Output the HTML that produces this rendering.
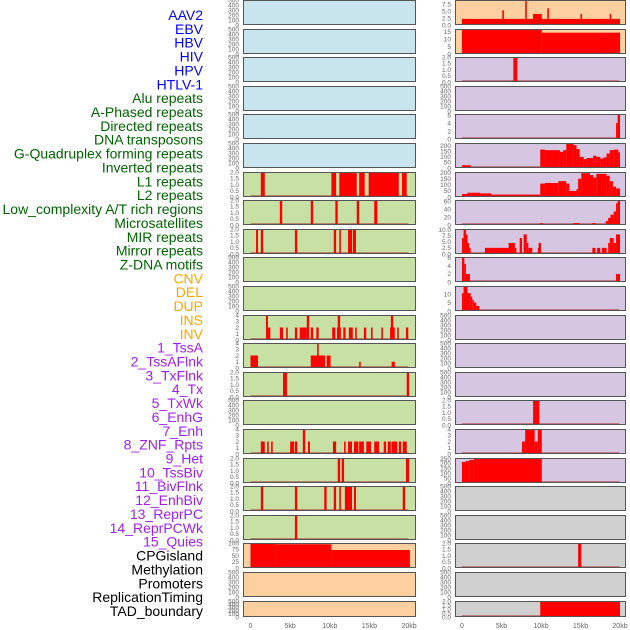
<!DOCTYPE html>
<html><head><meta charset="utf-8">
<style>
html,body{margin:0;padding:0;background:#fff;}
svg{display:block;font-family:"Liberation Sans",sans-serif;}
</style></head>
<body>
<svg id="chart" width="630" height="630" viewBox="0 0 630 630"></svg>
<script>
const trackLabels = ["AAV2","EBV","HBV","HIV","HPV","HTLV-1","Alu repeats","A-Phased repeats","Directed repeats","DNA transposons","G-Quadruplex forming repeats","Inverted repeats","L1 repeats","L2 repeats","Low_complexity A/T rich regions","Microsatellites","MIR repeats","Mirror repeats","Z-DNA motifs","CNV","DEL","DUP","INS","INV","1_TssA","2_TssAFlnk","3_TxFlnk","4_Tx","5_TxWk","6_EnhG","7_Enh","8_ZNF_Rpts","9_Het","10_TssBiv","11_BivFlnk","12_EnhBiv","13_ReprPC","14_ReprPCWk","15_Quies","CPGisland","Methylation","Promoters","ReplicationTiming","TAD_boundary"];
const labelColors = ["#0000ff","#0000ff","#0000ff","#0000ff","#0000ff","#0000ff","#006400","#006400","#006400","#006400","#006400","#006400","#006400","#006400","#006400","#006400","#006400","#006400","#006400","#ffa500","#ffa500","#ffa500","#ffa500","#ffa500","#a020f0","#a020f0","#a020f0","#a020f0","#a020f0","#a020f0","#a020f0","#a020f0","#a020f0","#a020f0","#a020f0","#a020f0","#a020f0","#a020f0","#a020f0","#000","#000","#000","#000","#000"];
const xTickValues = [0,5,10,15,20];
const xTickLabels = ["0","5kb","10kb","15kb","20kb"];
const T500 = ["0","100","200","300","400","500"];
const T2 = ["0.0","0.5","1.0","1.5","2.0"];
const T4 = ["0","1","2","3","4"];
const leftBg = ["#c8e4ec","#c8e4ec","#c8e4ec","#c8e4ec","#c8e4ec","#c8e4ec","#c7e1a5","#c7e1a5","#c7e1a5","#c7e1a5","#c7e1a5","#c7e1a5","#c7e1a5","#c7e1a5","#c7e1a5","#c7e1a5","#c7e1a5","#c7e1a5","#c7e1a5","#fed09f","#fed09f","#fed09f"];
const rightBg = ["#fed09f","#fed09f","#d6c6e2","#d6c6e2","#d6c6e2","#d6c6e2","#d6c6e2","#d6c6e2","#d6c6e2","#d6c6e2","#d6c6e2","#d6c6e2","#d6c6e2","#d6c6e2","#d6c6e2","#d6c6e2","#d6c6e2","#d0d0d0","#d0d0d0","#d0d0d0","#d0d0d0","#d0d0d0"];
const leftYMax = [500,500,500,500,500,500,2,2,2,500,500,4,4,2,500,4,2,2,2,100,500,500];
const leftTicks = [T500,T500,T500,T500,T500,T500,T2,T2,T2,T500,T500,T4,T4,T2,T500,T4,T2,T2,T2,["0","25","50","75","100"],T500,T500];
const leftBars = [
 [],[],[],[],[],[],
 [[1.3,1.8,2],[10.2,10.8,2],[11.2,13.4,2],[13.7,14.4,2],[14.9,18.7,2],[19.1,19.7,2]],
 [[3.7,4.0,2],[7.6,7.9,2],[10.7,11.0,2],[13.4,13.7,2],[15.6,16.0,2]],
 [[0.7,0.95,2],[1.3,1.6,2],[5.6,5.9,2],[10.5,10.8,2],[11.2,11.4,2],[12.3,12.8,2],[12.9,13.3,2]],
 [],[],
 [[1.95,2.2,4],[2.2,2.5,2],[3.7,4.1,2],[4.5,4.7,2],[5.6,5.9,2],[6.2,7.1,2],[7.1,7.4,4],[7.6,7.9,2],[8.3,8.6,2],[10.3,10.7,2],[10.9,11.4,2],[11.0,11.3,4],[11.7,12.0,2],[12.4,12.9,2],[13.2,13.4,2],[14.3,14.6,2],[15.2,15.4,2],[16.5,16.7,2],[17.6,18.2,2],[17.7,18.0,4],[18.5,18.7,2],[19.6,19.9,2]],
 [[0,0.95,2],[7.6,9.4,2],[8.4,8.6,4],[9.6,10.1,2],[13.7,13.9,1],[17.8,18.2,1]],
 [[4.1,4.6,2],[19.7,20.0,2]],
 [],
 [[1.3,1.8,2],[2.1,2.3,2],[2.6,2.8,2],[5.0,5.5,2],[5.6,5.9,2],[6.6,6.9,4],[7.25,7.5,2],[10.4,10.8,2],[11.8,12.0,2],[12.3,12.8,2],[13.05,13.6,2],[13.7,14.3,2],[14.6,15.2,2],[15.6,16.2,2],[16.8,17.1,2],[17.3,17.7,2],[17.8,18.5,2],[18.7,19.0,2],[19.2,19.7,2]],
 [[11.0,11.3,2],[11.5,11.8,2],[19.6,20.0,2]],
 [[1.3,1.6,2],[5.6,5.9,2],[9.3,9.6,2],[10.5,10.8,2],[11.2,11.4,2],[11.9,12.8,2],[13.05,13.3,2],[19.2,19.5,2]],
 [[5.6,5.9,2]],
 [[0,3.1,98],[3.1,10.2,95],[10.2,20.1,72]],
 [],[]
];
const rightYMax = [9,17,2,500,6.3,224,205,63,10.2,6.2,14.7,500,500,500,2,4,255,500,500,2,500,2];
const rightTicks = [["0.0","2.5","5.0","7.5"],["0","5","10","15"],T2,T500,["0","2","4","6"],["0","50","100","150","200"],["0","50","100","150","200"],["0","20","40","60"],["0.0","2.5","5.0","7.5","10.0"],["0","2","4","6"],["0","5","10"],T500,T500,T500,T2,T4,["0","50","100","150","200","250"],T500,T500,T2,T500,T2];
const rightBars = [
 [[0,20,2.2],[5.1,5.3,5.3],[8.0,8.2,9],[9.0,10.1,4],[10.8,11.0,6],[15.0,15.2,4],[18.7,18.9,4]],
 [[0,10.1,17],[10.1,20,14.5]],
 [[6.5,7.0,2]],
 [],
 [[19.5,19.7,4],[19.7,20,6.3]],
 [[0,1.1,25],[9.9,10.5,165],[10.5,12.4,160],[12.4,12.8,145],[12.8,13.2,160],[13.2,14.1,215],[14.1,14.5,205],[14.5,14.9,170],[14.9,15.4,100],[15.4,15.8,80],[15.8,16.6,90],[16.6,17.0,110],[17.0,17.5,100],[17.5,17.9,85],[17.9,18.3,95],[18.3,18.7,130],[18.7,19.2,160],[19.2,19.8,165],[19.8,20,140]],
 [[0,0.7,25],[0.7,2.3,35],[2.3,3.7,30],[3.7,9.9,20],[9.9,10.5,110],[10.5,12.2,115],[12.2,13.2,130],[13.2,13.6,110],[13.6,14.5,50],[14.5,14.7,65],[14.7,15.1,150],[15.1,16.2,195],[16.2,16.6,180],[16.6,17.0,160],[17.0,18.3,190],[18.3,18.7,175],[18.7,19.1,130],[19.1,19.5,85],[19.5,20,70]],
 [[9.9,10.2,5],[14.1,14.9,5],[16.5,16.9,5],[18.2,18.5,10],[18.5,18.8,18],[18.8,19.2,26],[19.2,19.5,34],[19.5,19.7,55],[19.7,20,63]],
 [[0,0.2,6.5],[0.2,0.5,10.2],[0.5,0.7,8],[0.7,0.9,4.5],[0.9,1.1,2.5],[2.9,5.9,2.5],[5.9,6.7,4.5],[6.7,6.8,2.5],[7.3,7.6,6.5],[7.8,8.2,8],[8.2,8.4,4.5],[8.4,8.9,2.5],[9.6,9.7,2.5],[9.7,10.0,4.5],[16.5,16.9,2.5],[17.1,17.5,2.5],[17.7,18.3,2.5],[18.5,18.7,4.5],[18.7,19.2,6.5],[19.2,19.5,4.5],[19.5,20,8]],
 [[0,0.3,6.2],[0.3,0.5,4.5],[0.5,1.0,2],[19.5,20,2]],
 [[0,0.2,10.5],[0.2,0.7,14.7],[0.7,1.1,10.5],[1.1,1.3,8.5],[1.3,1.5,6.5],[1.5,1.8,5],[1.8,2.2,3]],
 [],[],[],
 [[9.0,9.8,2]],
 [[7.6,8.0,2],[8.0,9.2,4],[9.2,9.6,2],[9.6,10.1,4]],
 [[0,0.5,215],[0.5,0.9,225],[0.9,1.5,235],[1.5,10.1,250]],
 [],[],
 [[14.7,15.1,2]],
 [],
 [[9.9,20,2]]
];

const NS = "http://www.w3.org/2000/svg";
const svg = document.getElementById("chart");
function mk(tag, attrs, parent){const e=document.createElementNS(NS,tag);for(const k in attrs)e.setAttribute(k,attrs[k]);(parent||svg).appendChild(e);return e;}
function rowTop(i){return i<21?Math.round(i*28.6):601;}
function rowH(i){return i<21?25:16;}
const cols = [
 {x0:243,x1:416,zero:250.5,pxkb:7.93,tickX:239,bg:leftBg,ymax:leftYMax,ticks:leftTicks,bars:leftBars,name:"left"},
 {x0:455,x1:626,zero:462,pxkb:7.9,tickX:451,bg:rightBg,ymax:rightYMax,ticks:rightTicks,bars:rightBars,name:"right"}
];

// labels
trackLabels.forEach((t,i)=>{
  const e=mk("text",{x:203,y:(15+i*13.86+5).toFixed(1),"text-anchor":"end","font-size":"14",fill:labelColors[i]});
  e.textContent=t;
  
  
});

cols.forEach(c=>{
  const xs=kb=>c.zero+kb*c.pxkb;
  for(let i=0;i<22;i++){
    const top=rowTop(i),h=rowH(i),bot=top+h;
    const g=mk("g",{});
    
    
    mk("rect",{x:c.x0,y:top,width:c.x1-c.x0,height:h,fill:c.bg[i]},g);
    const ymax=c.ymax[i];
    const ys=v=>bot-v/ymax*h;
    const bars=c.bars[i];
    if(ymax!==500){
      const bl=mk("line",{x1:xs(0),x2:xs(19.9),y1:bot-1,y2:bot-1,stroke:"#b03030","stroke-width":"1.5","stroke-opacity":"0.7"},g);
      
      
    }
    bars.forEach(b=>{
      const y=Math.max(top,ys(b[2]));
      const r=mk("rect",{x:xs(b[0]).toFixed(2),y:y.toFixed(2),width:Math.max(1.5,(b[1]-b[0])*c.pxkb).toFixed(2),height:(bot-y).toFixed(2),fill:"#ff0000"},g);
      
      
    });
    mk("rect",{x:c.x0+0.5,y:top+0.5,width:c.x1-c.x0-1,height:h-1,fill:"none",stroke:"#555","stroke-width":"1"},g);
    c.ticks[i].forEach(lbl=>{
      const v=parseFloat(lbl);
      const t=mk("text",{x:c.tickX,y:(ys(v)+2.3).toFixed(1),"text-anchor":"end","font-size":"6.5",fill:"#666"},g);
      t.textContent=lbl;
      
      
    });
  }
  xTickValues.forEach((v,k)=>{
    const t=mk("text",{x:xs(v).toFixed(1),y:628,"text-anchor":"middle","font-size":"7",fill:"#666"});
    t.textContent=xTickLabels[k];
    
    
  });
});
</script>
</body></html>
